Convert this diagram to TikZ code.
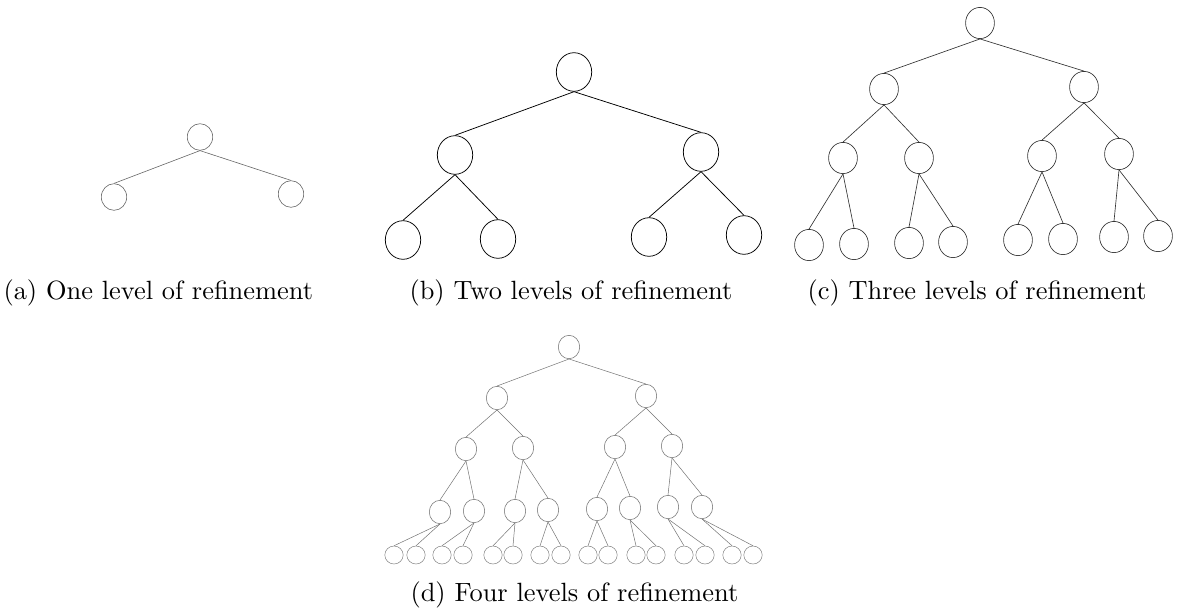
\documentclass[tikz,border=0pt]{standalone}
\usetikzlibrary{shapes.geometric}
\begin{document}
\begin{tikzpicture}[x=1pt,y=-1pt,
  nA/.style={ellipse,draw=black!60,line width=0.6pt,inner sep=0pt,minimum width=25.4pt,minimum height=26.6pt},
  eA/.style={draw=black!60,line width=0.6pt},
  nB/.style={ellipse,draw=black,line width=0.75pt,inner sep=0pt,minimum width=35.4pt,minimum height=38.6pt},
  eB/.style={draw=black,line width=0.75pt},
  nC/.style={ellipse,draw=black!80,line width=0.65pt,inner sep=0pt,minimum width=28.8pt,minimum height=31.2pt},
  eC/.style={draw=black!80,line width=0.65pt},
  nD/.style={ellipse,draw=black!55,line width=0.55pt,inner sep=0pt,minimum width=21.4pt,minimum height=23.4pt},
  nDl/.style={ellipse,draw=black!50,line width=0.5pt,inner sep=0pt,minimum width=18.4pt,minimum height=18pt},
  eD/.style={draw=black!55,line width=0.5pt},
  captxt/.style={anchor=base west,inner sep=0pt,scale=2.64,font=\fontsize{10}{12}\selectfont}]
\useasboundingbox (0,0) rectangle (1177,614);
% (a)
\node[nA] (a0) at (200,137) {};
\node[nA] (a1) at (114,197) {};
\node[nA] (a2) at (291,194) {};
\foreach \p/\c in {a0/a1,a0/a2} \draw[eA] (\p.south) -- (\c.north);
% (b)
\node[nB] (b0) at (574,72) {};
\node[nB] (b1) at (455,155) {};
\node[nB] (b2) at (701,152) {};
\node[nB] (b3) at (403,240) {};
\node[nB] (b4) at (498,239) {};
\node[nB] (b5) at (649,237) {};
\node[nB] (b6) at (744,235) {};
\foreach \p/\c in {b0/b1,b0/b2,b1/b3,b1/b4,b2/b5,b2/b6} \draw[eB] (\p.south) -- (\c.north);
% (c)
\node[nC] (c0) at (980,23) {};
\node[nC] (c1) at (884,89) {};
\node[nC] (c2) at (1084,87) {};
\node[nC] (c3) at (843,158) {};
\node[nC] (c4) at (919,158) {};
\node[nC] (c5) at (1042,156) {};
\node[nC] (c6) at (1119,154) {};
\node[nC] (c7) at (809,245) {};
\node[nC] (c8) at (854,244) {};
\node[nC] (c9) at (909,243) {};
\node[nC] (c10) at (953,242) {};
\node[nC] (c11) at (1018,240) {};
\node[nC] (c12) at (1063,239) {};
\node[nC] (c13) at (1114,237) {};
\node[nC] (c14) at (1158,236) {};
\foreach \p/\c in {c0/c1,c0/c2,c1/c3,c1/c4,c2/c5,c2/c6,c3/c7,c3/c8,c4/c9,c4/c10,c5/c11,c5/c12,c6/c13,c6/c14}
  \draw[eC] (\p.south) -- (\c.north);
% (d)
\node[nD] (d0) at (569,347) {};
\node[nD] (d1) at (497,398) {};
\node[nD] (d2) at (646,396) {};
\node[nD] (d3) at (466,449) {};
\node[nD] (d4) at (523,448) {};
\node[nD] (d5) at (615,447) {};
\node[nD] (d6) at (672,446) {};
\node[nD] (d7) at (440,512) {};
\node[nD] (d8) at (474,511) {};
\node[nD] (d9) at (515,511) {};
\node[nD] (d10) at (548,510) {};
\node[nD] (d11) at (597,509) {};
\node[nD] (d12) at (630,508) {};
\node[nD] (d13) at (668,507) {};
\node[nD] (d14) at (702,507) {};
\node[nDl] (d15) at (394,555) {};
\node[nDl] (d16) at (416,555) {};
\node[nDl] (d17) at (442,555) {};
\node[nDl] (d18) at (463,555) {};
\node[nDl] (d19) at (493,555) {};
\node[nDl] (d20) at (513,555) {};
\node[nDl] (d21) at (540,555) {};
\node[nDl] (d22) at (561,555) {};
\node[nDl] (d23) at (588,555) {};
\node[nDl] (d24) at (608,555) {};
\node[nDl] (d25) at (636,555) {};
\node[nDl] (d26) at (656,555) {};
\node[nDl] (d27) at (684,555) {};
\node[nDl] (d28) at (705,555) {};
\node[nDl] (d29) at (732,555) {};
\node[nDl] (d30) at (753,555) {};
\foreach \p/\c in {d0/d1,d0/d2,d1/d3,d1/d4,d2/d5,d2/d6,d3/d7,d3/d8,d4/d9,d4/d10,d5/d11,d5/d12,d6/d13,d6/d14,
  d7/d15,d7/d16,d8/d17,d8/d18,d9/d19,d9/d20,d10/d21,d10/d22,d11/d23,d11/d24,d12/d25,d12/d26,d13/d27,d13/d28,d14/d29,d14/d30}
  \draw[eD] (\p.south) -- (\c.north);
% captions
\node[captxt] (ca) at (3,299) {(a) One level of refinement};
\node[captxt] (cb) at (409,299) {(b) Two levels of refinement};
\node[captxt] (cc) at (807,299) {(c) Three levels of refinement};
\node[captxt] (cd) at (410,601) {(d) Four levels of refinement};
\end{tikzpicture}
\end{document}
